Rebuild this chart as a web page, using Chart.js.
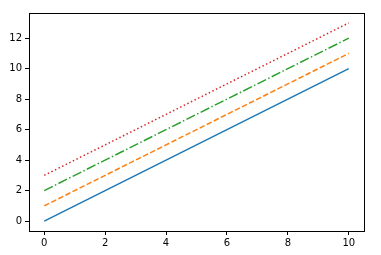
<!DOCTYPE html>
<html>
<head>
<meta charset="utf-8">
<script src="https://cdn.jsdelivr.net/npm/chart.js@4"></script>
<style>
  html, body { margin: 0; padding: 0; background: #fff; }
  #wrap { width: 381px; height: 255px; }
</style>
</head>
<body>
<div id="wrap"><canvas id="myChart" width="381" height="255"></canvas></div>
<script>
// data
const xValues = [0, 1, 2, 3, 4, 5, 6, 7, 8, 9, 10];
const line0 = [0, 1, 2, 3, 4, 5, 6, 7, 8, 9, 10];
const line1 = [1, 2, 3, 4, 5, 6, 7, 8, 9, 10, 11];
const line2 = [2, 3, 4, 5, 6, 7, 8, 9, 10, 11, 12];
const line3 = [3, 4, 5, 6, 7, 8, 9, 10, 11, 12, 13];
const xTicks = [0, 2, 4, 6, 8, 10];
const yTicks = [0, 2, 4, 6, 8, 10, 12];

function points(ys) {
  return xValues.map((x, i) => ({ x: x, y: ys[i] }));
}

function makeSet(ys, color, dash) {
  return {
    data: points(ys),
    borderColor: color,
    borderWidth: 1.5,
    borderDash: dash,
    pointRadius: 0,
    fill: false,
    tension: 0
  };
}

// frame around the plot area, like matplotlib's spines
const frame = {
  id: 'frame',
  afterDraw(chart) {
    const a = chart.chartArea;
    const c = chart.ctx;
    c.save();
    c.strokeStyle = '#000';
    c.lineWidth = 1;
    c.strokeRect(Math.round(a.left) + 0.5, Math.round(a.top) + 0.5,
      Math.round(a.right - a.left), Math.round(a.bottom - a.top));
    c.restore();
  }
};

const tickFont = { family: 'DejaVu Sans', size: 10 };

var ctx = document.getElementById('myChart').getContext('2d');
new Chart(ctx, {
  type: 'line',
  data: {
    datasets: [
      makeSet(line0, '#1f77b4', []),
      makeSet(line1, '#ff7f0e', [5.5, 2.4]),
      makeSet(line2, '#2ca02c', [9.6, 2.4, 1.5, 2.4]),
      makeSet(line3, '#d62728', [1.5, 2.5])
    ]
  },
  options: {
    responsive: false,
    animation: false,
    layout: { padding: { top: 13, right: 17, left: 0, bottom: 0 } },
    plugins: { legend: { display: false }, tooltip: { enabled: false } },
    scales: {
      x: {
        type: 'linear',
        min: -0.5,
        max: 10.5,
        afterBuildTicks: s => { s.ticks = xTicks.map(v => ({ value: v })); },
        afterFit: s => { s.height = 24; },
        grid: { drawOnChartArea: false, tickLength: 4, tickColor: '#000', tickWidth: 1 },
        border: { display: false },
        ticks: { color: '#000', font: tickFont, padding: 2, maxRotation: 0 }
      },
      y: {
        type: 'linear',
        min: -0.65,
        max: 13.65,
        afterBuildTicks: s => { s.ticks = yTicks.map(v => ({ value: v })); },
        afterFit: s => { s.width = 29; },
        grid: { drawOnChartArea: false, tickLength: 4, tickColor: '#000', tickWidth: 1 },
        border: { display: false },
        ticks: { color: '#000', font: tickFont, padding: 3 }
      }
    }
  },
  plugins: [frame]
});
</script>
</body>
</html>
